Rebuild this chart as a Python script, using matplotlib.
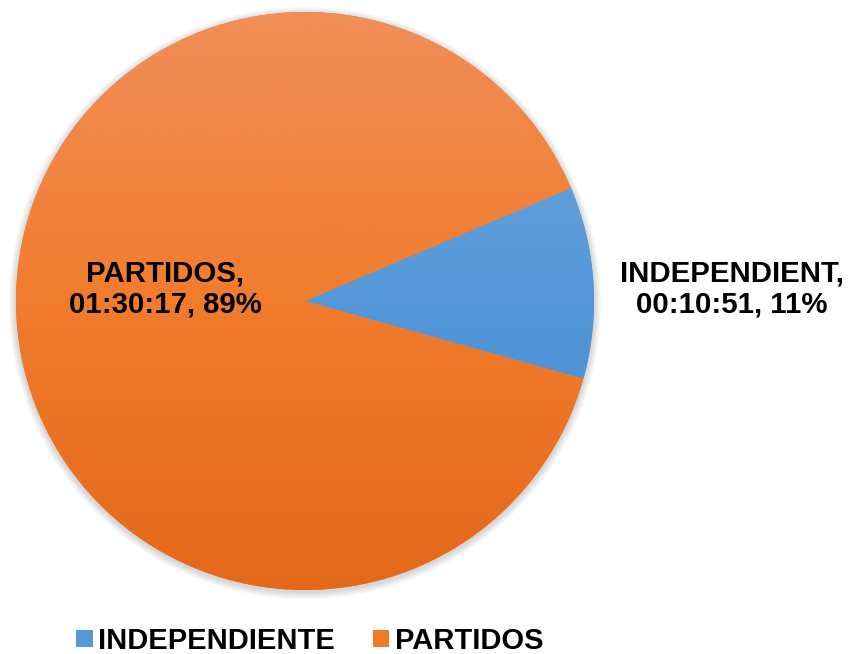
import numpy as np
import matplotlib
matplotlib.use("Agg")
import matplotlib.pyplot as plt
from matplotlib.colors import LinearSegmentedColormap
from matplotlib.patches import Circle, Rectangle

plt.rcParams['font.family'] = ['Liberation Sans', 'DejaVu Sans']

categories = ["INDEPENDIENTE", "PARTIDOS"]
label_names = ["INDEPENDIENT", "PARTIDOS"]
durations = ["00:10:51", "01:30:17"]
seconds = [651, 5417]
percents = ["11%", "89%"]

W, H = 848, 654
fig = plt.figure(figsize=(W / 100, H / 100), dpi=100)
ax = fig.add_axes([0, 0, 1, 1])

cx, cy, R = 305, H - 301, 289

# soft shadow
for i in range(8):
    ax.add_patch(Circle((cx, cy - 2), R + 1 + i * 0.9, facecolor='#000000',
                        alpha=0.018, edgecolor='none', zorder=0))

grads = [
    [(0.0, '#70A8DE'), (0.5, '#5598D8'), (1.0, '#4285CA')],
    [(0.0, '#F18E58'), (0.5, '#F17C2D'), (1.0, '#E4681A')],
]
legend_colors = ['#5598D8', '#EE7A2C']
wedges, _ = ax.pie(seconds, center=(cx, cy), radius=R, startangle=23,
                   counterclock=False, colors=legend_colors,
                   wedgeprops=dict(linewidth=0), frame=True)

grad = np.linspace(0, 1, 256).reshape(-1, 1)
for w, stops in zip(wedges, grads):
    cmap = LinearSegmentedColormap.from_list('g', stops)
    im = ax.imshow(grad, cmap=cmap, extent=(cx - R, cx + R, cy - R, cy + R),
                   origin='upper', aspect='auto', zorder=2, interpolation='bilinear')
    im.set_clip_path(w)
    w.set_zorder(1)

ax.set_xlim(0, W)
ax.set_ylim(0, H)
ax.set_aspect('equal')
ax.axis('off')

fs = 21.2
ax.text(732, H - 289, f"{label_names[0]},\n{durations[0]}, {percents[0]}",
        ha='center', va='center', fontsize=fs, fontweight='bold',
        linespacing=1.13, zorder=5)
ax.text(165, H - 289, f"{label_names[1]},\n{durations[1]}, {percents[1]}",
        ha='center', va='center', fontsize=fs, fontweight='bold',
        linespacing=1.13, zorder=5)

handles = [Rectangle((0, 0), 1, 1, facecolor=c, edgecolor='none') for c in legend_colors]
leg = fig.legend(handles, categories, loc='center', bbox_to_anchor=(310 / W, 1 - 641 / H),
                 ncol=2, frameon=False, prop=dict(size=21, weight='bold'),
                 handlelength=0.55, handleheight=0.55, handletextpad=0.2,
                 columnspacing=1.3)

fig.savefig("out.png", dpi=100)
